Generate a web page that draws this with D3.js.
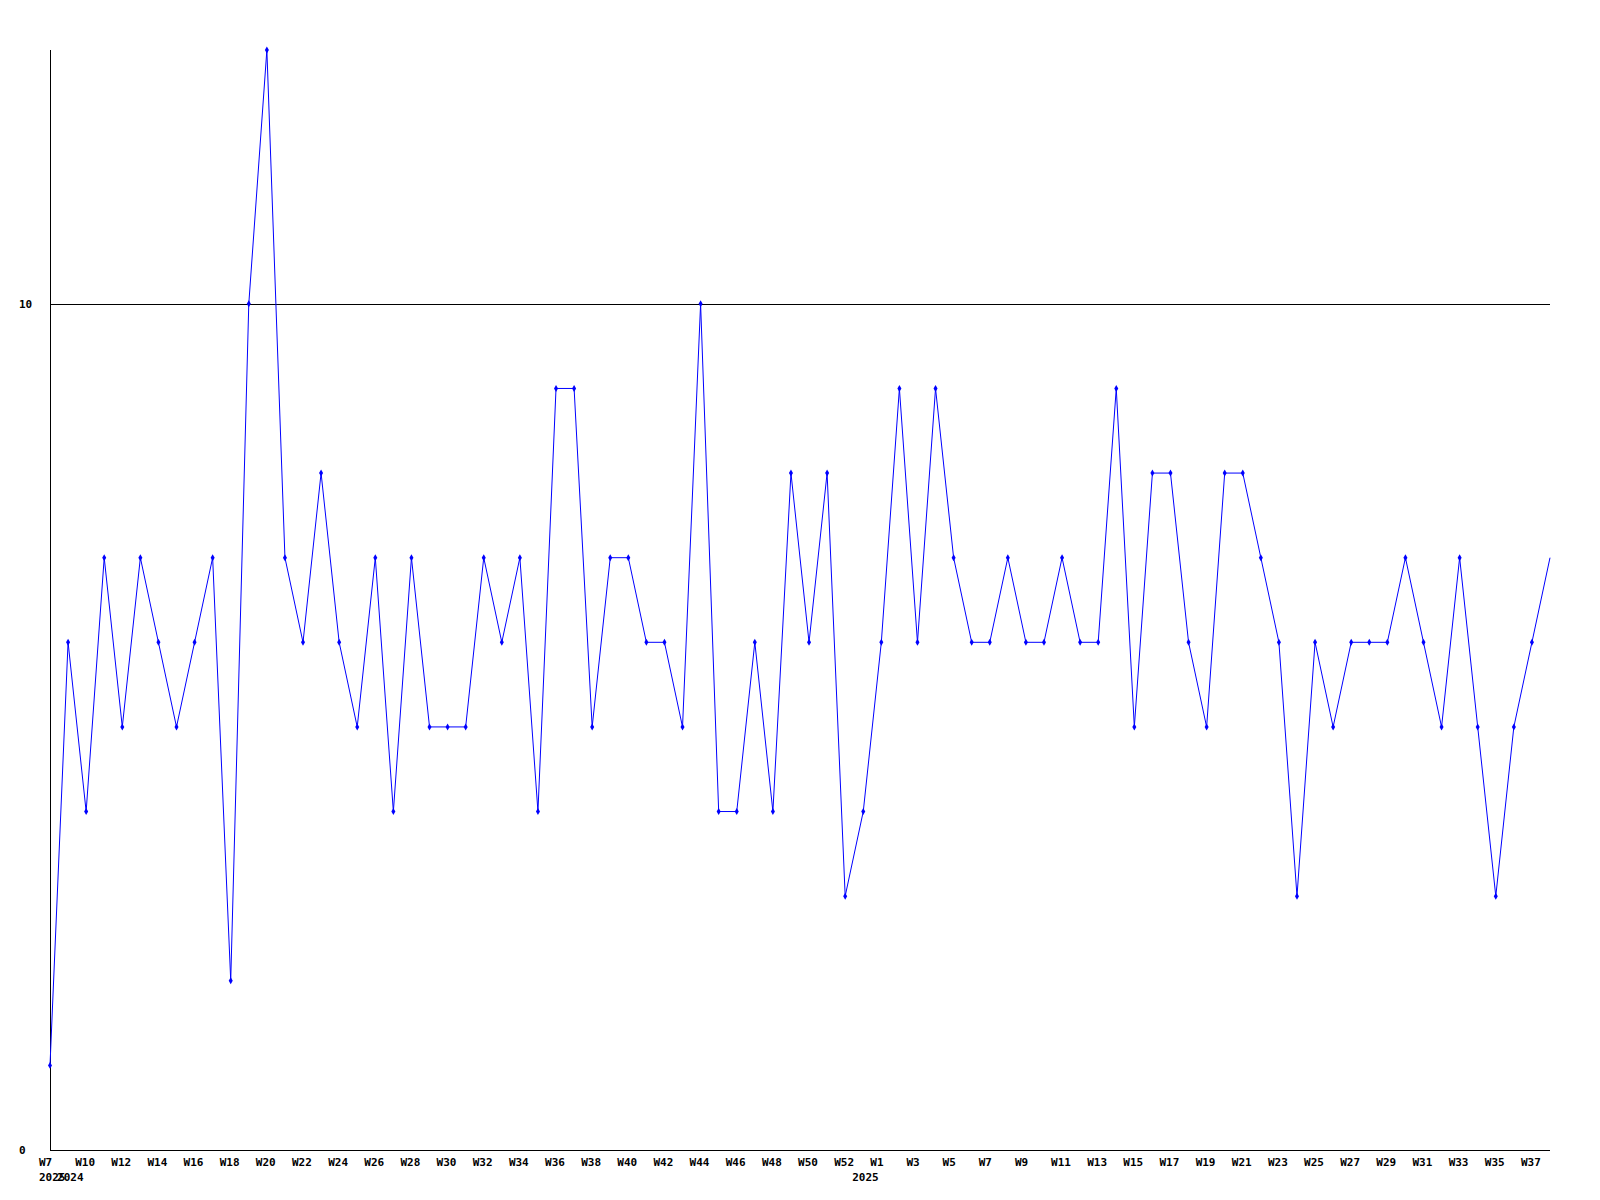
<!DOCTYPE html>
<html>
<head>
<meta charset="utf-8">
<script src="https://cdn.jsdelivr.net/npm/d3@7"></script>
<style>
  body { margin: 0; background: #fff; }
  text { font-family: "DejaVu Sans Mono", "Liberation Mono", monospace; font-weight: bold; font-size: 11px; fill: #000; }
</style>
</head>
<body>
<div id="chart"></div>
<script>
// week labels for each point (odd ones are not drawn)
var weeks = ["W7","W9","W10","W11","W12","W13","W14","W15","W16","W17","W18","W19","W20","W21","W22","W23",
  "W24","W25","W26","W27","W28","W29","W30","W31","W32","W33","W34","W35","W36","W37","W38","W39","W40",
  "W41","W42","W43","W44","W45","W46","W47","W48","W49","W50","W51","W52","W53",
  "W1","W2","W3","W4","W5","W6","W7","W8","W9","W10","W11","W12","W13","W14","W15","W16","W17","W18",
  "W19","W20","W21","W22","W23","W24","W25","W26","W27","W28","W29","W30","W31","W32","W33","W34","W35",
  "W36","W37","W38"];
var years = [2025].concat(d3.range(44).map(function(){ return 2024; }), d3.range(39).map(function(){ return 2025; }));
var values = [1,6,4,7,5,7,6,5,6,7,2,10,13,7,6,8,6,5,7,4,7,5,5,5,7,6,7,4,9,9,5,7,7,6,6,5,10,4,4,6,4,8,6,8,3,4,
  6,9,6,9,7,6,6,7,6,6,7,6,6,9,5,8,8,6,5,8,8,7,6,3,6,5,6,6,6,7,6,5,7,5,3,5,6,7];
var yTicks = [0, 10];

var width = 1600, height = 1200;
var mLeft = 50, mRight = 1550, mTop = 50, mBottom = 1150;

var svg = d3.select("#chart").append("svg")
  .attr("width", width)
  .attr("height", height);

var x = d3.scaleLinear().domain([0, values.length - 1]).range([mLeft, mRight]);
var y = d3.scaleLinear().domain([0, 13]).range([mBottom, mTop]);

// grid line at 10
svg.selectAll("line.grid")
  .data(yTicks.filter(function(d){ return d > 0; }))
  .enter().append("line")
    .attr("x1", mLeft).attr("x2", mRight)
    .attr("y1", function(d){ return Math.round(y(d)) + 0.5; })
    .attr("y2", function(d){ return Math.round(y(d)) + 0.5; })
    .attr("stroke", "#000").attr("stroke-width", 1);

// axes
svg.append("line").attr("x1", mLeft + 0.5).attr("x2", mLeft + 0.5).attr("y1", mTop).attr("y2", mBottom)
  .attr("stroke", "#000");
svg.append("line").attr("x1", mLeft).attr("x2", mRight).attr("y1", mBottom + 0.5).attr("y2", mBottom + 0.5)
  .attr("stroke", "#000");

svg.selectAll("text.ytick")
  .data(yTicks)
  .enter().append("text")
    .attr("x", 19)
    .attr("y", function(d){ return y(d) + 4; })
    .text(function(d){ return d; });

// x labels every other point
svg.selectAll("text.week")
  .data(weeks.map(function(w, i){ return {w: w, i: i}; }).filter(function(d){ return d.i % 2 === 0; }))
  .enter().append("text")
    .attr("x", function(d){ return x(d.i) - 11; })
    .attr("y", 1166)
    .text(function(d){ return d.w; });

// year labels where year changes
svg.selectAll("text.year")
  .data(years.map(function(yr, i){ return {yr: yr, i: i}; })
    .filter(function(d){ return d.i === 0 || years[d.i - 1] !== d.yr; }))
  .enter().append("text")
    .attr("x", function(d){ return x(d.i) - 11; })
    .attr("y", 1181)
    .text(function(d){ return d.yr; });

var line = d3.line()
  .x(function(d, i){ return x(i); })
  .y(function(d){ return y(d); });

svg.append("path")
  .datum(values)
  .attr("d", line)
  .attr("fill", "none")
  .attr("stroke", "#0000ff")
  .attr("stroke-width", 1);

// markers (last point has none)
svg.selectAll("path.marker")
  .data(values.slice(0, values.length - 1))
  .enter().append("path")
    .attr("d", d3.symbol().type(d3.symbolDiamond).size(14))
    .attr("transform", function(d, i){ return "translate(" + x(i) + "," + y(d) + ")"; })
    .attr("fill", "#0000ff");
</script>
</body>
</html>
